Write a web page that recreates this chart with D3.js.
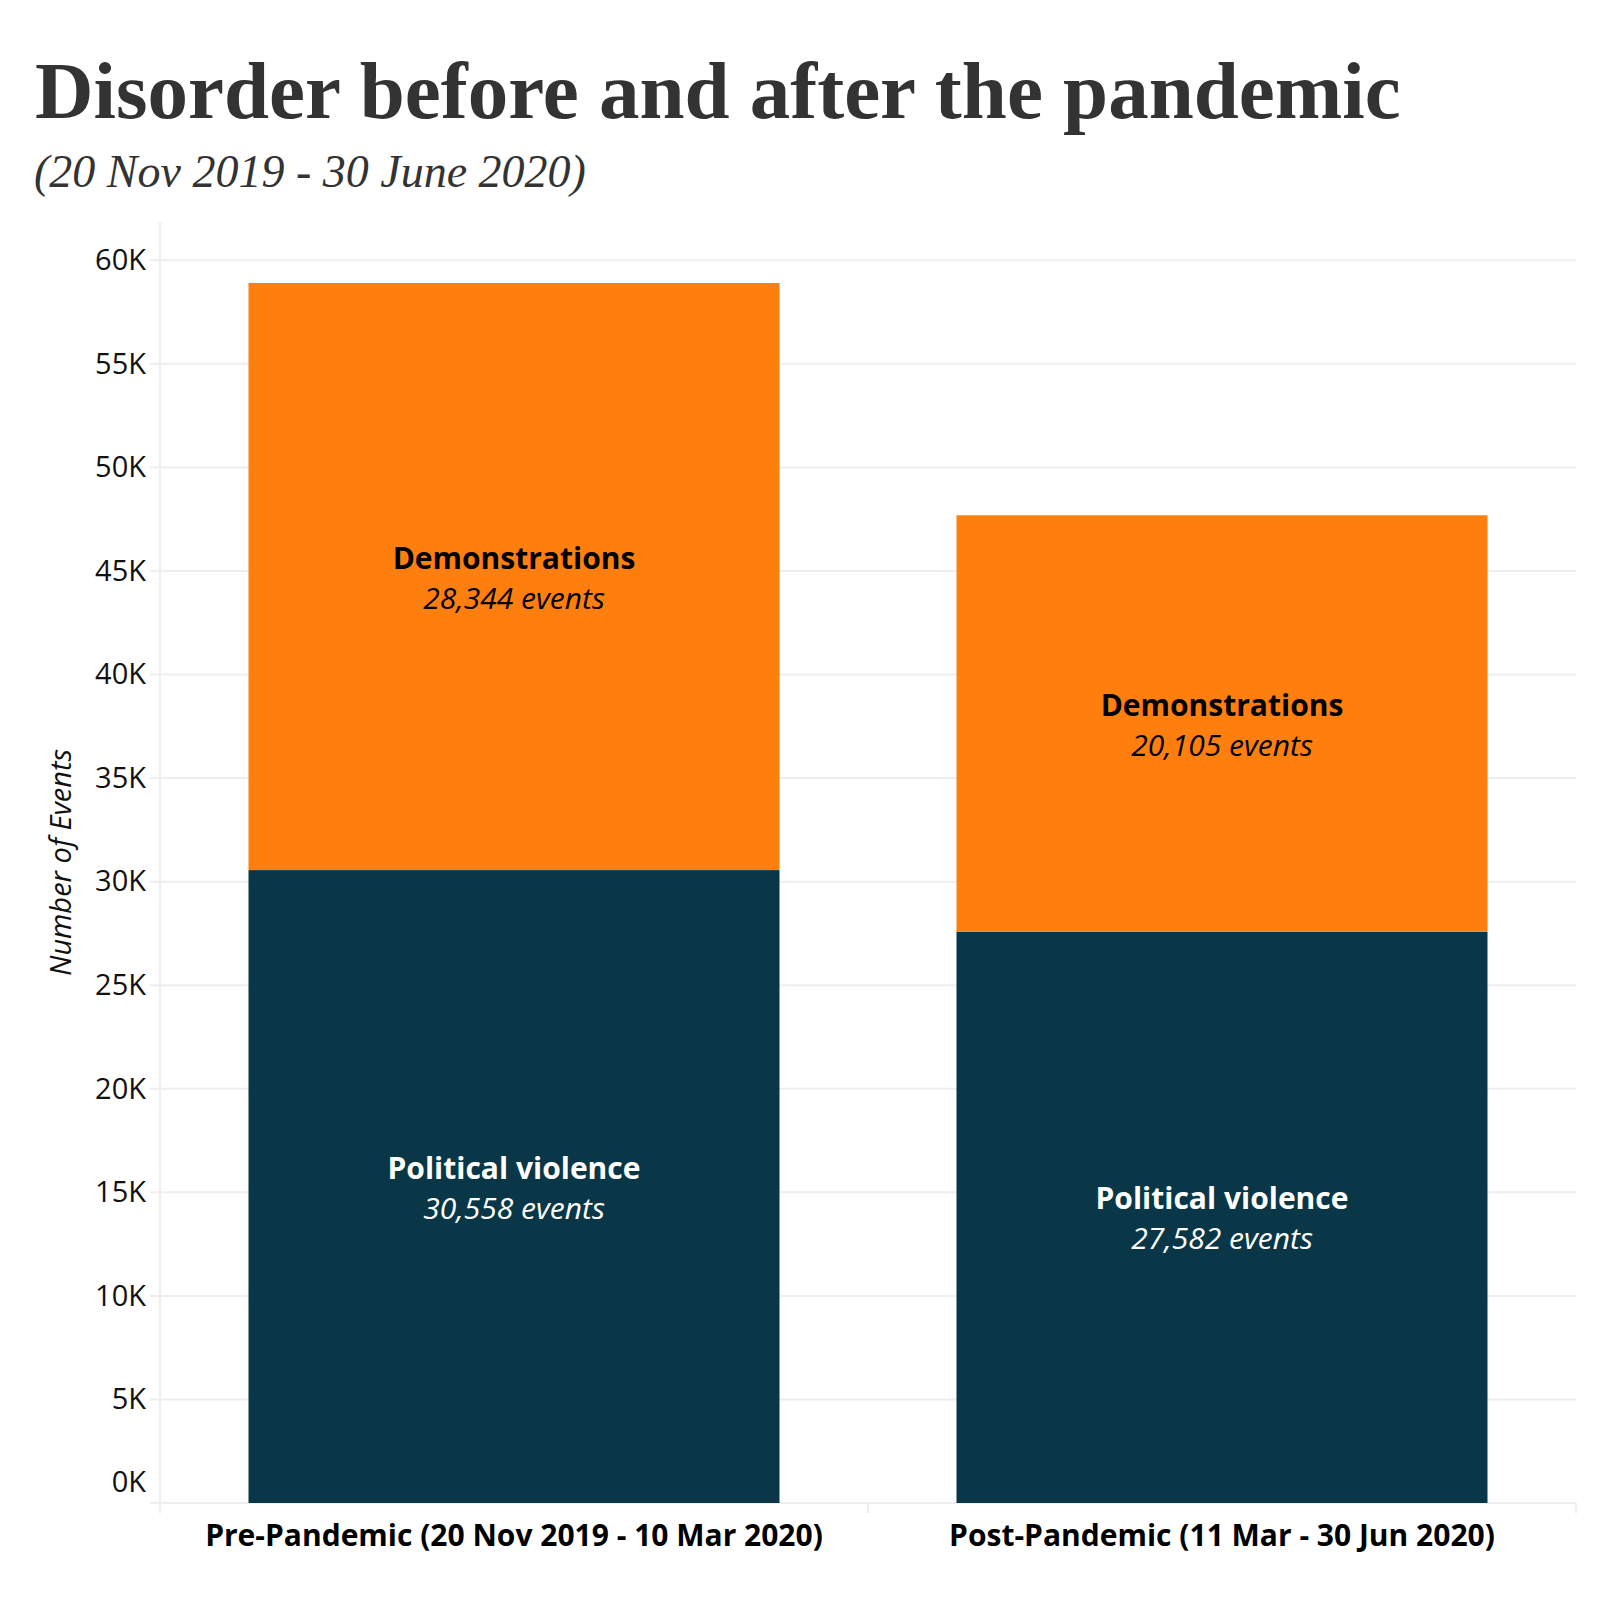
<!DOCTYPE html>
<html>
<head>
<meta charset="utf-8">
<script src="https://cdn.jsdelivr.net/npm/d3@7/dist/d3.min.js"></script>
<style>
  html, body { margin: 0; padding: 0; background: #fff; }
  svg { display: block; }
</style>
</head>
<body>
<svg id="chart" width="1600" height="1600"></svg>
<script>
// ---- data ----
const categories = ["Pre-Pandemic (20 Nov 2019 - 10 Mar 2020)", "Post-Pandemic (11 Mar - 30 Jun 2020)"];
const seriesNames = ["Political violence", "Demonstrations"];
const politicalViolence = [30558, 27582];
const demonstrations = [28344, 20105];
const yTicks = [0, 5000, 10000, 15000, 20000, 25000, 30000, 35000, 40000, 45000, 50000, 55000, 60000];
const titleText = "Disorder before and after the pandemic";
const subtitleText = "(20 Nov 2019 - 30 June 2020)";
const yAxisTitle = "Number of Events";

// ---- layout ----
const W = 1600, H = 1600;
const plot = { left: 160, right: 1576, top: 222, bottom: 1503 };
const colors = { "Political violence": "#0a3747", "Demonstrations": "#ff7f0e" };
const labelColors = { "Political violence": "#ffffff", "Demonstrations": "#000000" };
const gridColor = "#eeeeee";

const svg = d3.select("#chart");

const totals = categories.map((c, i) => politicalViolence[i] + demonstrations[i]);
const yMax = d3.max(totals) * 1.05;

const x = d3.scaleBand().domain(categories).range([plot.left, plot.right])
  .paddingInner(0.25).paddingOuter(0.125);
const y = d3.scaleLinear().domain([0, yMax]).range([plot.bottom, plot.top]);

// gridlines
svg.append("g").selectAll("line").data(yTicks).join("line")
  .attr("x1", plot.left - 10).attr("x2", plot.right)
  .attr("y1", d => y(d)).attr("y2", d => y(d))
  .attr("stroke", gridColor).attr("stroke-width", 2);

// left axis line
svg.append("line")
  .attr("x1", plot.left).attr("x2", plot.left)
  .attr("y1", plot.top).attr("y2", plot.bottom + 10)
  .attr("stroke", gridColor).attr("stroke-width", 2);

// x tick marks at category boundaries
const boundaries = [plot.left, (plot.left + plot.right) / 2, plot.right];
svg.append("g").selectAll("line").data(boundaries).join("line")
  .attr("x1", d => d).attr("x2", d => d)
  .attr("y1", plot.bottom).attr("y2", plot.bottom + 10)
  .attr("stroke", gridColor).attr("stroke-width", 2);

// y axis labels
const yAxis = d3.axisLeft(y).tickValues(yTicks).tickSize(0).tickPadding(14)
  .tickFormat(d => (d / 1000) + "K");
const yg = svg.append("g").attr("transform", `translate(${plot.left},0)`).call(yAxis);
yg.select(".domain").remove();
yg.selectAll("text")
  .attr("font-family", "'Open Sans', sans-serif")
  .attr("font-size", 29)
  .attr("fill", "#111")
  .attr("dy", d => d === 0 ? "-0.38em" : "0.32em");

// stacked bars
const rows = categories.map((c, i) => ({ cat: c, "Political violence": politicalViolence[i], "Demonstrations": demonstrations[i] }));
const stack = d3.stack().keys(seriesNames)(rows);

const layers = svg.append("g").selectAll("g").data(stack).join("g")
  .attr("fill", d => colors[d.key]);
layers.selectAll("rect").data(d => d.map(v => ({ key: d.key, v }))).join("rect")
  .attr("x", d => x(d.v.data.cat))
  .attr("width", x.bandwidth())
  .attr("y", d => y(d.v[1]))
  .attr("height", d => y(d.v[0]) - y(d.v[1]));

// inside labels
const fmt = d3.format(",");
stack.forEach(layer => {
  layer.forEach(v => {
    const cx = x(v.data.cat) + x.bandwidth() / 2;
    const cy = (y(v[0]) + y(v[1])) / 2;
    const t = svg.append("text")
      .attr("text-anchor", "middle")
      .attr("font-family", "'Open Sans', sans-serif")
      .attr("font-size", 30)
      .attr("fill", labelColors[layer.key]);
    t.append("tspan").attr("x", cx).attr("y", cy - 8)
      .attr("font-weight", "bold").text(layer.key);
    t.append("tspan").attr("x", cx).attr("y", cy + 32)
      .attr("font-style", "italic").text(fmt(v[1] - v[0]) + " events");
  });
});

// x labels
svg.append("g").selectAll("text").data(categories).join("text")
  .attr("x", d => x(d) + x.bandwidth() / 2)
  .attr("y", plot.bottom + 43)
  .attr("text-anchor", "middle")
  .attr("font-family", "'Open Sans', sans-serif")
  .attr("font-weight", "bold")
  .attr("font-size", 30)
  .attr("fill", "#000")
  .text(d => d);

// y axis title
svg.append("text")
  .attr("transform", `translate(71, ${(plot.top + plot.bottom) / 2}) rotate(-90)`)
  .attr("text-anchor", "middle")
  .attr("font-family", "'Open Sans', sans-serif")
  .attr("font-style", "italic")
  .attr("font-size", 29)
  .attr("fill", "#111")
  .text(yAxisTitle);

// title & subtitle
svg.append("text")
  .attr("x", 35).attr("y", 118)
  .attr("font-family", "'Liberation Serif', 'DejaVu Serif', serif")
  .attr("font-weight", "bold")
  .attr("font-size", 81)
  .attr("fill", "#333")
  .text(titleText);

svg.append("text")
  .attr("x", 34).attr("y", 187)
  .attr("font-family", "'Liberation Serif', 'DejaVu Serif', serif")
  .attr("font-style", "italic")
  .attr("font-size", 46)
  .attr("fill", "#333")
  .text(subtitleText);
</script>
</body>
</html>
